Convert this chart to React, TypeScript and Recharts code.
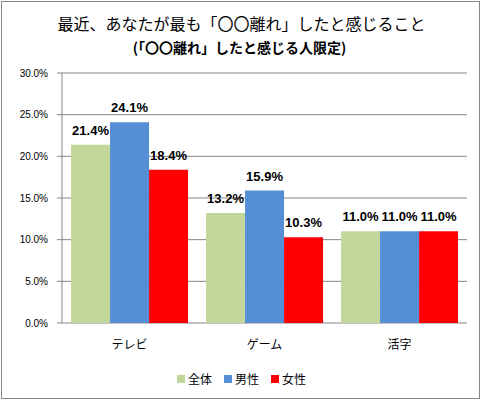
import React from 'react';
import { BarChart, Bar, XAxis, YAxis, CartesianGrid, Legend, LabelList } from 'recharts';

const categories = ['テレビ', 'ゲーム', '活字'];
const allValues = [21.4, 13.2, 11.0];
const maleValues = [24.1, 15.9, 11.0];
const femaleValues = [18.4, 10.3, 11.0];
const yTicks = [0, 5, 10, 15, 20, 25, 30];
const boundaryTicks = [0, 1, 2, 3];
const seriesNames = ['全体', '男性', '女性'];
const seriesColors = ['#C4D79B', '#558ED5', '#FF0000'];
const titleLines = ['最近、あなたが最も「〇〇離れ」したと感じること', '(「〇〇離れ」したと感じる人限定)'];

const data = categories.map((c, i) => ({
  name: c,
  all: allValues[i],
  male: maleValues[i],
  female: femaleValues[i],
}));
const keys = ['all', 'male', 'female'];

const fmt = (v: number) => `${Number(v).toFixed(1)}%`;
const CJK = '"Noto Sans CJK JP", sans-serif';
const LAT = '"Liberation Sans", Arial, sans-serif';

const LegendContent = () => (
  <div style={{ display: 'flex', justifyContent: 'center', alignItems: 'center', height: 18 }}>
    {seriesNames.map((n, i) => (
      <div key={n} style={{ display: 'flex', alignItems: 'center', marginRight: i < seriesNames.length - 1 ? 12 : 0 }}>
        <span style={{ display: 'inline-block', width: 8, height: 8, background: seriesColors[i], marginRight: 3 }} />
        <span style={{ fontFamily: CJK, fontSize: 12, color: '#000', lineHeight: '18px' }}>{n}</span>
      </div>
    ))}
  </div>
);

export default function App() {
  return (
    <div style={{ position: 'absolute', left: 0, top: 0, width: 483, height: 402, background: '#fff' }}>
      <div style={{ position: 'absolute', left: 1, top: 1, width: 479, height: 398, border: '1px solid #888', boxSizing: 'border-box' }} />
      <div style={{ position: 'absolute', left: 0, top: 11, width: 483, textAlign: 'center', fontFamily: CJK, fontSize: 16, lineHeight: '24px', color: '#000' }}>
        {titleLines[0]}
      </div>
      <div style={{ position: 'absolute', left: 0, top: 36, width: 479, textAlign: 'center', fontFamily: CJK, fontSize: 14, fontWeight: 'bold', lineHeight: '22px', color: '#000' }}>
        {titleLines[1]}
      </div>
      <div style={{ position: 'absolute', left: 0, top: 0 }}>
        <BarChart
          width={483}
          height={402}
          data={data}
          margin={{ top: 73, right: 16, left: 0, bottom: 31 }}
          barCategoryGap="6.7%"
          barGap={0}
        >
          <CartesianGrid vertical={false} stroke="#868686" />
          <XAxis
            xAxisId="b"
            type="number"
            domain={[0, 3]}
            ticks={boundaryTicks}
            height={0}
            tick={false}
            tickSize={5}
            axisLine={{ stroke: '#868686' }}
            tickLine={{ stroke: '#868686' }}
          />
          <XAxis
            xAxisId="cat"
            dataKey="name"
            height={30}
            tickLine={false}
            axisLine={false}
            tickSize={0}
            tickMargin={17}
            tick={{ fill: '#000', fontSize: 12, fontFamily: CJK }}
          />
          <YAxis
            width={62}
            domain={[0, 30]}
            ticks={yTicks}
            tickFormatter={fmt}
            tickSize={5}
            tickMargin={9}
            axisLine={{ stroke: '#868686' }}
            tickLine={{ stroke: '#868686' }}
            tick={{ fill: '#000', fontSize: 10, fontFamily: LAT }}
            interval={0}
          />
          <Legend
            verticalAlign="bottom"
            content={<LegendContent />}
            wrapperStyle={{ left: 0, width: 483, bottom: 14, height: 18 }}
          />
          {keys.map((k, i) => (
            <Bar key={k} xAxisId="cat" dataKey={k} name={seriesNames[i]} fill={seriesColors[i]} isAnimationActive={false}>
              <LabelList dataKey={k} position="top" offset={10} formatter={fmt} style={{ fill: '#000', fontSize: 13, fontWeight: 'bold', fontFamily: LAT }} />
            </Bar>
          ))}
        </BarChart>
      </div>
    </div>
  );
}
